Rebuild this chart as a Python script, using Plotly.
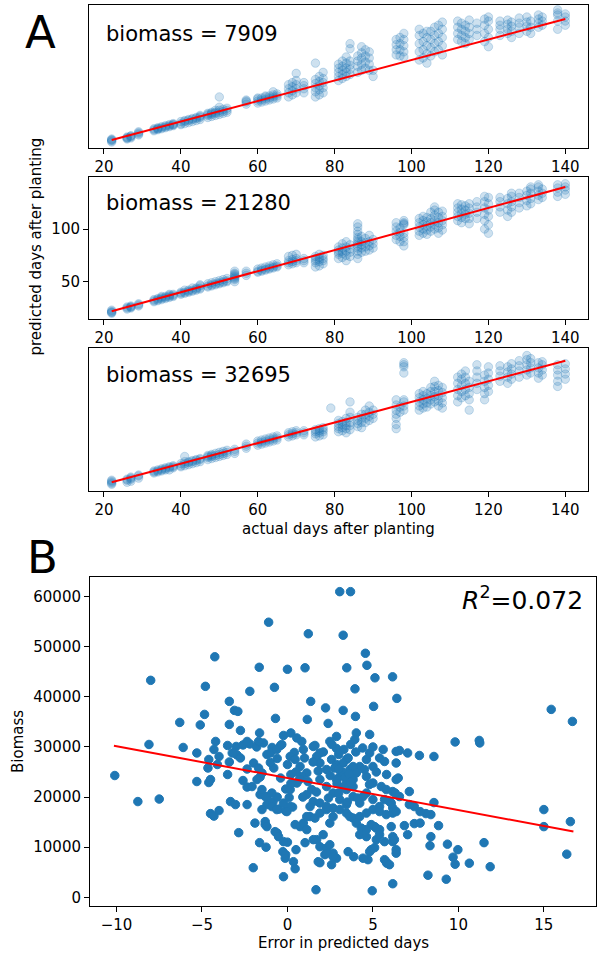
import plotly.graph_objects as go

FONT = "DejaVu Sans"
BLUE = "#1f77b4"
W, H = 597, 953

# ---------------- Panel A data: actual day -> predicted days ----------------
a1_pred = {
    22: [21, 22, 22, 23, 20], 26: [23, 24, 25, 24], 27: [24, 25, 26, 26], 29: [27, 28, 29, 30],
    33: [31, 32, 33], 34: [32, 33, 34, 33], 35: [33, 34, 35], 36: [34, 35, 36], 37: [35, 36, 37],
    38: [36, 37, 38, 37], 40: [37, 38, 40], 41: [38, 40, 41], 42: [39, 41, 42], 43: [40, 42, 43],
    44: [41, 43, 44], 45: [42, 44, 45, 46], 47: [44, 46, 47, 48], 48: [45, 47, 48, 49],
    49: [46, 48, 49, 51], 50: [47, 49, 51, 54, 64], 51: [48, 50, 52], 52: [49, 51, 53],
    57: [57, 59, 60, 61], 60: [58, 60, 62, 63], 61: [59, 61, 63], 62: [60, 62, 64, 65],
    63: [61, 63, 65], 64: [62, 64, 66, 69], 65: [63, 65, 67], 68: [64, 68, 72, 76],
    69: [66, 70, 74, 78], 70: [68, 72, 76, 80, 87], 72: [68, 72, 75, 78],
    75: [64, 69, 73, 77, 81, 97], 76: [66, 71, 75, 79, 84], 77: [68, 73, 78, 82, 88],
    81: [80, 84, 88, 92, 96], 82: [82, 86, 90, 94, 99], 83: [84, 88, 92, 97, 103],
    84: [86, 91, 95, 99, 111, 116], 86: [88, 94, 99, 104], 87: [90, 96, 102, 107, 113],
    88: [92, 98, 104, 110], 89: [90, 96, 102, 108], 90: [84, 90],
    96: [105, 110, 115, 120], 97: [104, 110, 116, 122], 98: [103, 108, 114, 120, 126],
    102: [100, 108, 116, 124, 130], 103: [102, 110, 118, 126], 104: [97, 106, 114, 122, 128],
    105: [104, 112, 120, 128], 106: [108, 116, 124, 132], 107: [110, 118, 126, 134],
    108: [105, 114, 122, 130, 137], 112: [120, 126, 132, 138], 113: [118, 124, 130, 136],
    114: [116, 122, 128, 134], 115: [120, 126, 132, 139], 117: [124, 130, 136],
    119: [118, 126, 134, 140], 120: [113, 122, 130, 138, 142], 123: [124, 130, 134, 138],
    125: [126, 130, 135, 139], 126: [122, 128, 133, 137], 128: [126, 132, 136, 141],
    130: [128, 133, 137, 142], 131: [126, 132, 138], 133: [132, 136, 140, 144],
    134: [134, 138, 142], 138: [130, 138, 144, 149, 146], 140: [134, 138, 142, 145],
}
a2_pred = {
    22: [20, 21, 22, 23, 21], 26: [24, 25, 26], 27: [25, 26, 27, 26], 29: [27, 28, 29],
    33: [31, 32, 33], 34: [32, 33, 34], 35: [33, 34, 35, 36], 36: [34, 35, 36], 37: [35, 36, 37, 38],
    38: [36, 37, 38], 40: [38, 39, 40], 41: [39, 40, 42], 42: [40, 41, 42], 43: [41, 42, 44],
    44: [42, 43, 44], 45: [43, 44, 46, 47], 47: [45, 46, 48], 48: [46, 47, 49], 49: [47, 48, 50],
    50: [48, 49, 51], 51: [49, 50, 52], 52: [50, 51, 53], 54: [50, 52, 53, 54, 55, 56, 57, 58, 60],
    57: [56, 58, 60], 60: [59, 60, 62], 61: [60, 61, 63], 62: [61, 62, 64], 63: [62, 63, 65],
    64: [63, 64, 66], 65: [64, 65, 67], 68: [66, 68, 70, 74], 69: [67, 69, 71, 75],
    70: [68, 70, 72, 76], 72: [68, 70, 72], 75: [64, 68, 70, 72, 74], 76: [65, 69, 71, 73, 76],
    77: [67, 70, 72, 75], 81: [72, 76, 78, 80, 83], 82: [73, 77, 79, 82, 86],
    83: [70, 75, 79, 83, 88], 84: [74, 78, 81, 85],
    86: [72, 76, 79, 82, 84, 86, 88, 90, 92, 95, 98, 102, 105], 87: [78, 82, 85, 88, 93],
    88: [79, 83, 87, 91], 89: [80, 84, 88, 94], 90: [82, 86, 90],
    96: [90, 94, 98, 102, 106], 97: [88, 93, 97, 101], 98: [84, 88, 92, 96, 104, 105, 106, 108],
    102: [94, 98, 102, 106, 110], 103: [96, 100, 104, 108, 112], 104: [95, 99, 103, 107, 111],
    105: [98, 102, 106, 110, 116], 106: [100, 104, 108, 113, 118, 121], 107: [96, 101, 106, 111, 116],
    108: [99, 104, 108, 112, 117], 112: [108, 112, 116, 120, 124], 113: [106, 111, 115, 119, 123],
    114: [110, 114, 118, 122], 115: [105, 110, 115, 120, 124], 117: [110, 116, 121, 126],
    119: [100, 108, 114, 120, 126, 131], 120: [96, 104, 112, 118, 124, 130],
    123: [116, 121, 126, 130], 125: [112, 118, 124, 129], 126: [116, 121, 126, 131, 134],
    128: [120, 125, 130, 134], 130: [122, 127, 132, 136], 131: [124, 129, 134, 138, 140],
    133: [128, 132, 136, 140, 142], 134: [130, 134, 138], 138: [131, 135, 139, 142],
    140: [133, 137, 140, 143],
}
a3_pred = {
    22: [20, 21, 22, 23, 24], 26: [22, 24, 25], 27: [23, 25, 26, 27], 29: [26, 28, 29],
    33: [31, 32, 33], 34: [32, 33, 34], 35: [33, 34, 35], 36: [34, 35, 36], 37: [34, 36, 37],
    38: [36, 37, 38], 40: [37, 38, 40], 41: [38, 40, 42, 47], 42: [39, 41, 42], 43: [40, 42, 43],
    44: [41, 43, 44], 45: [42, 44, 45], 47: [44, 46, 47, 48], 48: [45, 47, 48, 49],
    49: [46, 48, 50], 50: [47, 49, 51], 51: [48, 50, 52], 52: [49, 51, 53], 54: [50, 52, 54],
    57: [55, 57, 59], 60: [58, 60, 62], 61: [59, 61, 63], 62: [60, 62, 64], 63: [61, 63, 65],
    64: [62, 64, 66], 65: [63, 65, 67], 68: [66, 68, 70], 69: [67, 69, 71], 70: [68, 70, 72],
    72: [68, 70, 72], 75: [66, 69, 71, 73], 76: [67, 70, 72, 74], 77: [68, 71, 73, 75], 79: [94],
    81: [71, 74, 76, 79, 82], 82: [72, 75, 78, 81], 83: [70, 74, 77, 80, 84],
    84: [73, 77, 80, 85, 90, 100], 86: [76, 79, 82, 85], 87: [75, 80, 84, 88],
    88: [80, 84, 88, 92], 89: [82, 86, 90, 96], 90: [84, 88, 92],
    96: [74, 78, 84, 88, 92, 97, 102], 97: [90, 95], 98: [92, 96, 100, 102, 128, 134, 136, 138],
    102: [92, 96, 100, 104, 108], 103: [94, 98, 102, 106, 110], 104: [95, 99, 103, 108],
    105: [98, 102, 106, 110, 114], 106: [100, 105, 110, 115, 120], 107: [96, 101, 106, 111, 116],
    108: [94, 99, 104, 109, 114], 112: [100, 106, 112, 118, 124], 113: [104, 110, 116, 122, 127],
    114: [106, 112, 118, 124, 130], 115: [92, 102, 108, 114, 120], 117: [112, 118, 124, 130, 136],
    119: [102, 108, 114, 120, 126], 120: [110, 116, 122, 128, 134], 123: [120, 125, 130, 135],
    125: [118, 124, 129, 134], 126: [122, 127, 132, 137], 128: [124, 130, 135, 140],
    130: [126, 131, 136, 141, 145], 131: [128, 133, 138, 142], 133: [123, 128, 133, 138],
    134: [126, 131, 136, 139], 138: [115, 120, 126, 131, 136], 140: [122, 127, 132, 137],
}
a_biomass_labels = ["biomass = 7909", "biomass = 21280", "biomass = 32695"]
a_fit_days = [22, 140]
a_xticks = [20, 40, 60, 80, 100, 120, 140]
a2_yticks = [50, 100]

# ---------------- Panel B data: (error in predicted days, biomass) ----------------
b_points = [
    (-10.1, 24300), (-8.75, 19100), (-8.1, 30500), (-8.0, 43300), (-7.5, 19600), (-6.3, 34900),
    (-6.1, 29900), (-5.3, 28800), (-5.3, 23100), (-5.1, 34400), (-4.85, 36500), (-4.8, 42100),
    (-4.25, 48000), (-4.65, 25800), (-4.6, 22900), (-4.5, 16700), (-4.3, 16200), (-4.0, 17300),
    (-4.3, 29500), (-4.2, 31100), (-4.0, 28100), (-4.6, 27500), (-4.5, 23500), (-4.1, 26500),
    (-3.5, 24500), (-3.4, 27000), (-3.4, 39100), (-3.4, 34500), (-3.33, 19100), (-3.04, 18500),
    (-3.1, 37300), (-2.9, 37100), (-2.95, 28400), (-2.75, 33300), (-2.85, 12900), (-2.6, 23300),
    (-2.36, 25600), (-2.36, 22000), (-2.36, 18500), (-2.2, 41100), (-2.0, 5900), (-1.9, 14800),
    (-1.65, 45900), (-1.63, 32800), (-1.63, 10900), (-1.6, 24000), (-1.6, 20500), (-1.3, 14500),
    (-1.3, 20100), (-1.25, 10000), (-1.2, 28500), (-1.2, 18500), (-1.1, 54900), (-0.85, 19000),
    (-0.76, 41900), (-0.7, 35700), (-0.6, 27700), (-0.6, 20000), (-0.6, 12800), (-0.5, 17600),
    (-0.27, 9100), (-0.23, 4100), (-0.23, 32300), (-0.1, 21600), (-0.1, 17200), (-0.1, 8500),
    (0.0, 45500), (0.0, 26500), (0.0, 11000), (0.1, 19900), (0.2, 24500), (0.2, 32800),
    (0.3, 18000), (0.35, 7100), (0.4, 28900), (0.45, 5700), (0.5, 9500),
    (-3.5, 30300), (-3.0, 30100), (-2.6, 30400), (-2.2, 30600), (-1.8, 30000), (-1.4, 30800),
    (-0.9, 29900), (-0.4, 30300),
    (-3.23, 28800), (-2.75, 27800), (-2.36, 31100), (-1.98, 26800), (-1.69, 25800), (-1.49, 24800),
    (-1.0, 28800), (-0.62, 29500), (-0.33, 30500), (0.16, 28100), (0.45, 27500), (0.74, 26100),
    (0.93, 29500), (1.13, 24800), (1.51, 30100), (1.71, 28100), (1.9, 26800), (2.29, 25500),
    (2.58, 27500), (2.87, 26500), (3.06, 24100), (3.45, 27500), (3.65, 25500), (3.84, 23500),
    (4.23, 26100), (4.62, 27500), (4.81, 28800), (5.0, 26100), (5.39, 27800), (5.68, 27100),
    (6.36, 26800), (6.36, 23500), (5.0, 22800), (5.49, 22100), (6.16, 21100),
    (-1.69, 31100), (0.55, 31800), (2.87, 32100), (2.48, 31100), (4.03, 32800), (3.94, 31500),
    (4.81, 32500), (6.36, 29100),
    (-2.07, 22100), (-1.78, 23500), (-1.49, 21500), (-1.2, 20100), (-0.91, 20800), (-0.23, 18800),
    (0.16, 18100), (0.16, 21500), (0.55, 22800), (0.84, 24100), (1.13, 20500), (1.42, 21500),
    (1.51, 19100), (1.9, 23500), (2.29, 22100), (2.67, 20800), (3.06, 19500), (3.45, 21500),
    (3.84, 20100), (4.23, 18800), (4.62, 20800), (5.0, 19500), (5.39, 18100), (5.78, 21500),
    (6.07, 18800), (6.55, 20100),
    (3.06, 61000), (3.69, 61000), (1.22, 52600), (3.26, 52300), (4.56, 48700), (4.65, 46300),
    (1.03, 45800), (3.47, 45800), (5.12, 43800), (6.15, 44000), (3.95, 41600), (1.36, 39100),
    (6.40, 39700), (2.23, 37800), (3.26, 37300), (5.04, 38100), (1.16, 35500), (2.38, 34700),
    (3.98, 36100), (1.61, 30300), (1.9, 28800), (2.87, 29700), (0.84, 31100),
    (9.81, 31000), (11.22, 31300), (11.25, 30800), (15.43, 37500), (16.67, 35100),
    (6.55, 29300), (7.03, 28800), (7.72, 28300), (8.57, 28100),
    (15.0, 17500), (15.0, 14100), (16.55, 15100), (16.34, 8600), (11.5, 10900), (11.86, 6100),
    (10.64, 6800), (9.97, 9500), (9.69, 8000), (9.81, 6600), (9.36, 10600), (9.29, 3600),
    (8.22, 4400), (8.34, 10300), (8.39, 12100), (8.84, 14300), (8.57, 18900), (8.39, 16500),
    (8.1, 16700), (7.76, 17100), (7.42, 18100), (7.13, 18500), (7.13, 21100), (6.48, 23800),
    (6.3, 20800), (7.03, 12500), (6.84, 14300), (7.42, 14700), (7.76, 14800), (6.36, 8800),
    (6.16, 2700), (4.96, 1300), (1.67, 1500), (5.81, 6800), (5.68, 7500), (4.71, 7500),
    (4.42, 7800), (4.9, 9500), (5.1, 9900), (3.88, 8100), (3.55, 9100), (2.58, 6500), (1.9, 6900),
    (-1.3, 15100), (-1.2, 14100), (-1.49, 17500), (-0.91, 18100), (-0.62, 17500), (-0.03, 17100),
    (-0.72, 13100), (-0.52, 12100), (-0.23, 11100), (-0.13, 7800), (1.03, 10900), (0.45, 14500),
    (0.74, 14100), (0.93, 14800), (1.13, 13500), (1.32, 16100), (1.61, 15800), (1.9, 16800),
    (2.29, 17500), (2.48, 14800), (2.67, 17800), (3.06, 17500), (3.45, 16800), (3.84, 15800),
    (4.23, 16100), (4.62, 16800), (5.0, 17500), (5.39, 17100), (5.78, 16500), (6.16, 16800),
    (1.71, 11500), (2.09, 12500), (1.9, 10100), (2.29, 9800), (2.19, 8500), (2.67, 8800),
    (2.87, 7800), (4.23, 12500), (4.81, 9100), (5.1, 14100), (5.39, 13500), (5.68, 11100),
    (6.07, 14100), (6.16, 11100), (6.36, 9500), (5.78, 7100), (5.97, 6500), (1.8, 7100),
    (2.48, 10500),
    (2.77, 25800), (3.26, 26800), (3.55, 27800), (3.84, 26100), (4.03, 24800), (2.87, 23500),
    (3.45, 23100), (3.84, 22100), (4.62, 24100), (4.42, 20100), (5.97, 19100), (6.16, 17800),
    (6.36, 17100), (5.68, 19500), (1.13, 16100), (1.32, 18100), (1.9, 18800), (2.29, 18100),
    (2.67, 16100), (3.45, 18500), (3.65, 16100), (4.03, 14800), (4.32, 13800), (4.9, 14500),
    (4.62, 12100), (5.2, 11500), (6.16, 12100), (1.51, 11500), (2.29, 8800), (2.67, 8100),
    (4.62, 13500), (5.2, 13800), (5.39, 12500), (6.26, 11500),
    (3.2, 25000), (3.4, 24000), (3.0, 25600), (3.6, 24600), (2.9, 22700), (3.3, 22000),
    (3.7, 23000), (2.5, 24300), (1.8, 25200), (1.2, 23100), (0.7, 23500), (1.5, 27000),
    (2.1, 29000), (2.6, 30500), (3.3, 29500), (3.0, 28500), (4.0, 29000), (3.7, 30500),
    (4.4, 29800), (1.0, 27800), (0.5, 25000), (0.2, 22700), (-0.4, 23800), (-0.8, 25800),
    (-1.0, 26900), (0.9, 20000), (1.7, 21000), (2.4, 19800), (3.0, 20800), (3.5, 19000),
    (4.1, 19800), (4.8, 22500), (4.5, 25500), (5.2, 25000), (5.8, 24500), (5.0, 30000),
    (5.6, 29500),
]
b_error = [p[0] for p in b_points]
b_biomass = [p[1] for p in b_points]
b_fit_error = [-10.15, 16.73]
b_fit_biomass = [30260, 13120]
b_r2_text = "<i>R</i><sup>2</sup>=0.072"
b_xticks = [-10, -5, 0, 5, 10, 15]
b_yticks = [0, 10000, 20000, 30000, 40000, 50000, 60000]

# ---------------- figure ----------------
def yd(top, bottom):
    return [1 - bottom / H, 1 - top / H]

fig = go.Figure()

a_fill = "rgba(31,119,180,0.22)"
for i, pred in enumerate([a1_pred, a2_pred, a3_pred]):
    n = "" if i == 0 else str(i + 1)
    xs = [d for d, vals in pred.items() for v in vals]
    ys = [v for d, vals in pred.items() for v in vals]
    fig.add_trace(go.Scatter(
        x=xs, y=ys, mode="markers", xaxis="x" + n, yaxis="y" + n,
        marker=dict(size=8.5, color=a_fill, line=dict(width=1, color=a_fill)),
        hoverinfo="skip"))
    fig.add_trace(go.Scatter(
        x=a_fit_days, y=a_fit_days, mode="lines", xaxis="x" + n, yaxis="y" + n,
        line=dict(color="red", width=2), hoverinfo="skip"))

fig.add_trace(go.Scatter(
    x=b_error, y=b_biomass, mode="markers", xaxis="x4", yaxis="y4",
    marker=dict(size=8.5, color=BLUE, line=dict(width=1, color=BLUE)), hoverinfo="skip"))
fig.add_trace(go.Scatter(
    x=b_fit_error, y=b_fit_biomass, mode="lines", xaxis="x4", yaxis="y4",
    line=dict(color="red", width=2), hoverinfo="skip"))

TICK = 15
axis_common = dict(showline=True, linecolor="black", linewidth=1, mirror=True,
                   ticks="outside", ticklen=5, tickwidth=1, tickcolor="black",
                   showgrid=False, zeroline=False,
                   tickfont=dict(family=FONT, size=TICK, color="black"))
no_ticks = {**axis_common, "ticks": "", "showticklabels": False}

a_xdom = [89 / W, 588 / W]
a_xrange = [16.1, 145.9]
layout = dict(
    width=W, height=H, margin=dict(l=0, r=0, t=0, b=0),
    paper_bgcolor="white", plot_bgcolor="white", showlegend=False,
    font=dict(family=FONT, size=TICK, color="black"),
    xaxis=dict(domain=a_xdom, range=a_xrange, tickvals=a_xticks, anchor="y", **axis_common),
    yaxis=dict(domain=yd(5, 148), range=[14.2, 153.7], anchor="x", **no_ticks),
    xaxis2=dict(domain=a_xdom, range=a_xrange, tickvals=a_xticks, anchor="y2", **axis_common),
    yaxis2=dict(domain=yd(176.7, 319.3), range=[14.3, 149.7], tickvals=a2_yticks, anchor="x2", **axis_common),
    xaxis3=dict(domain=a_xdom, range=a_xrange, tickvals=a_xticks, anchor="y3", **axis_common),
    yaxis3=dict(domain=yd(348.3, 491), range=[13.5, 152], anchor="x3", **no_ticks),
    xaxis4=dict(domain=[90 / W, 596 / W], range=[-11.55, 18.05], tickvals=b_xticks, anchor="y4", **axis_common),
    yaxis4=dict(domain=yd(576.7, 905.7), range=[-1685, 63985], tickvals=b_yticks,
                tickformat="d", anchor="x4", **axis_common),
)
fig.update_layout(**layout)

def ann(text, x, y, size, xanchor="center", yanchor="middle", angle=0):
    fig.add_annotation(text=text, x=x / W, y=1 - y / H, xref="paper", yref="paper",
                       xanchor=xanchor, yanchor=yanchor, showarrow=False, textangle=angle,
                       font=dict(family=FONT, size=size, color="black"))

for label, yc in zip(a_biomass_labels, [34, 203, 375]):
    ann(label, 104, yc, 21, xanchor="left")
ann("A", 40, 33, 45)
ann("B", 42, 557, 45)
ann(b_r2_text, 585, 598, 25, xanchor="right")
ann("predicted days after planting", 35.5, 247, TICK, angle=-90)
ann("actual days after planting", 338, 529, TICK)
ann("Biomass", 18, 742, TICK, angle=-90)
ann("Error in predicted days", 343.5, 943, TICK)

fig.write_html("out.html", config={"displayModeBar": False},
               post_script="document.body.style.margin='0';document.body.style.padding='0';")
